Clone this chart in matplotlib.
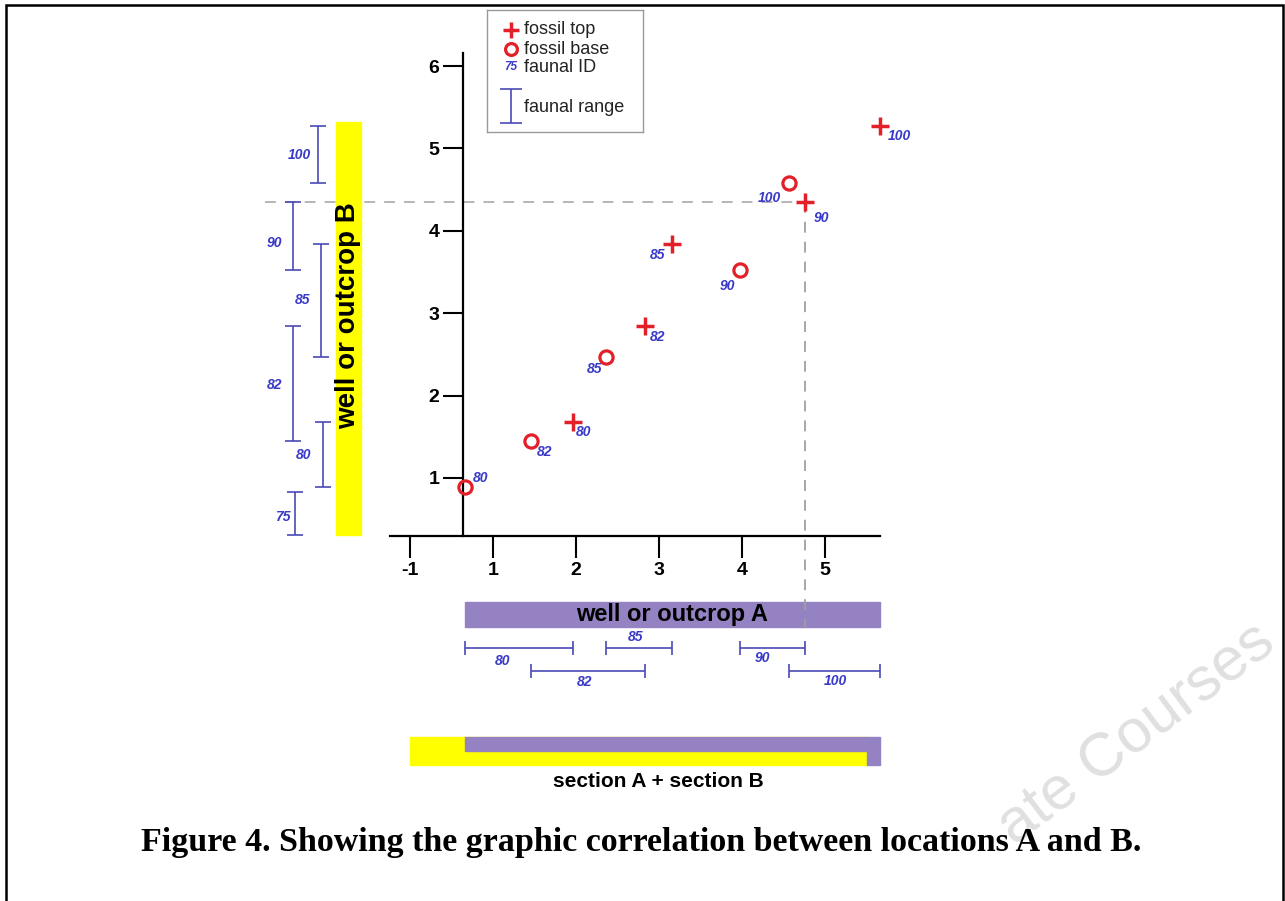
import matplotlib
matplotlib.use("Agg")
import matplotlib.pyplot as plt
from matplotlib.patches import Rectangle

plt.rcParams["font.family"] = ["Liberation Sans", "DejaVu Sans"]

# faunal IDs found in both sections
species = ["80", "82", "85", "90", "100"]
# fossil base / fossil top: position in section A (x) and section B (y)
base_a = [0.66, 1.46, 2.36, 3.98, 4.57]
base_b = [0.89, 1.45, 2.47, 3.52, 4.58]
top_a = [1.96, 2.83, 3.16, 4.76, 5.67]
top_b = [1.68, 2.85, 3.84, 4.35, 5.27]
# species 75 only occurs in section B
extra_species = "75"
extra_range_b = [0.31, 0.83]
# section B projected onto the A scale (composite)
composite_b = [0.0, 5.51]

x_ticks = [0, 1, 2, 3, 4, 5]
x_tick_labels = ["-1", "1", "2", "3", "4", "5"]
y_ticks = [1, 2, 3, 4, 5, 6]

RED = "#e3202a"
BLUE = "#3a3ac8"
RANGE = "#4a4ab8"
YELLOW = "#ffff00"
PURPLE = "#9482c2"

fig = plt.figure(figsize=(12.85, 9.01), dpi=100)
ax = fig.add_axes([390 / 1285, 1 - 536 / 901, 490 / 1285, 483 / 901])
ax.set_xlim(-0.2425, 5.668)
ax.set_ylim(0.296, 6.158)
ax.patch.set_alpha(0)

for s in ["top", "right"]:
    ax.spines[s].set_visible(False)
ax.spines["left"].set_position(("data", 0.644))
ax.spines["left"].set_linewidth(1.6)
ax.spines["bottom"].set_linewidth(1.6)
ax.set_xticks(x_ticks)
ax.set_xticklabels(x_tick_labels, fontweight="bold")
ax.set_yticks(y_ticks)
ax.set_yticklabels([str(v) for v in y_ticks], fontweight="bold")
ax.tick_params(axis="x", direction="out", length=15.5, width=1.5, pad=3, labelsize=14)
ax.tick_params(axis="y", direction="out", length=14.4, width=1.5, pad=3, labelsize=14)

# dashed guide through the top of species 90
ax.plot([-1.75, top_a[3]], [top_b[3], top_b[3]], color="#b0b0b0", lw=1.3,
        dashes=(6, 5), clip_on=False, zorder=1)
ax.plot([top_a[3], top_a[3]], [top_b[3], -0.81], color="#a0a0a0", lw=1.3,
        dashes=(6, 5), clip_on=False, zorder=3)

# markers
ax.plot(top_a, top_b, "+", color=RED, ms=12.5, mew=2.5, clip_on=False, zorder=4)
ax.plot(base_a, base_b, "o", mfc="none", mec=RED, ms=9.5, mew=2.3,
        clip_on=False, zorder=4)

# faunal ID labels next to the markers (offsets in pixels, y down)
base_off = [(16, -9), (13, 11), (-11, 12), (-13, 16), (-20, 15)]
top_off = [(11, 10), (13, 11), (-15, 11), (17, 16), (19, 10)]
lab_kw = dict(color=BLUE, fontsize=10, fontstyle="italic", fontweight="bold",
              ha="center", va="center", textcoords="offset points",
              annotation_clip=False)
for i, sp in enumerate(species):
    dx, dy = base_off[i]
    ax.annotate(sp, (base_a[i], base_b[i]), xytext=(dx * 0.72, -dy * 0.72), **lab_kw)
    dx, dy = top_off[i]
    ax.annotate(sp, (top_a[i], top_b[i]), xytext=(dx * 0.72, -dy * 0.72), **lab_kw)

# section B column
b_min, b_max = extra_range_b[0], top_b[-1]
ax.add_patch(Rectangle((-0.894, b_min), 0.30, b_max - b_min + 0.05, color=YELLOW,
                       clip_on=False, zorder=2))
ax.text(-0.745, 2.97, "well or outcrop B", rotation=90, ha="center", va="center",
        fontsize=20, fontweight="bold", zorder=3)

b_bar_x = [-1.05, -1.41, -1.07, -1.41, -1.11]
b_lab_dy = [0, 2, 0, 7, 0]
err_kw = dict(fmt="none", ecolor=RANGE, elinewidth=1.2, capthick=1.2,
              clip_on=False, zorder=3)
for i, sp in enumerate(species):
    lo, hi = base_b[i], top_b[i]
    mid = (lo + hi) / 2
    ax.errorbar([b_bar_x[i]], [mid], yerr=[[mid - lo], [hi - mid]], capsize=6, **err_kw)
    ax.annotate(sp, (b_bar_x[i], mid), xytext=(-19 * 0.72, -b_lab_dy[i] * 0.72), **lab_kw)
mid = sum(extra_range_b) / 2
ax.errorbar([-1.39], [mid], yerr=[[mid - extra_range_b[0]], [extra_range_b[1] - mid]],
            capsize=6, **err_kw)
ax.annotate(extra_species, (-1.39, mid), xytext=(-12 * 0.72, -4 * 0.72), **lab_kw)

# section A row
a_min, a_max = base_a[0], top_a[-1]
ax.add_patch(Rectangle((a_min, -0.808), a_max - a_min, 0.303, color=PURPLE,
                       clip_on=False, zorder=2))
ax.text((a_min + a_max) / 2, -0.655, "well or outcrop A", ha="center", va="center",
        fontsize=17, fontweight="bold", zorder=3)

a_rows = [-1.06, -1.34, -1.06, -1.06, -1.34]
a_lab_off = [(-16, 13), (-3, 11), (-3, -11), (-10, 10), (1, 10)]
for i, sp in enumerate(species):
    lo, hi = base_a[i], top_a[i]
    mid = (lo + hi) / 2
    ax.errorbar([mid], [a_rows[i]], xerr=[[mid - lo], [hi - mid]], capsize=4.8, **err_kw)
    dx, dy = a_lab_off[i]
    ax.annotate(sp, (mid, a_rows[i]), xytext=(dx * 0.72, -dy * 0.72), **lab_kw)

# composite section
ax.add_patch(Rectangle((composite_b[0], -2.483), composite_b[1] - composite_b[0], 0.34,
                       color=YELLOW, clip_on=False, zorder=2))
ax.add_patch(Rectangle((a_min, -2.313), a_max - a_min, 0.17, color=PURPLE,
                       clip_on=False, zorder=2))
ax.add_patch(Rectangle((composite_b[1], -2.483), a_max - composite_b[1], 0.17,
                       color=PURPLE, clip_on=False, zorder=2))
ax.text((a_min + a_max) / 2 - 0.17, -2.68, "section A + section B", ha="center",
        va="center", fontsize=15, fontweight="bold")

# legend box
lx, ly, lw_, lh = 487, 10, 156, 122
lg = fig.add_axes([lx / 1285, 1 - (ly + lh) / 901, lw_ / 1285, lh / 901])
lg.set_xlim(0, lw_)
lg.set_ylim(lh, 0)
lg.set_xticks([])
lg.set_yticks([])
for s in lg.spines.values():
    s.set_color("#9a9a9a")
    s.set_linewidth(1.0)
lg.plot([24], [20], "+", color=RED, ms=11, mew=2.5)
lg.plot([24], [39], "o", mfc="none", mec=RED, ms=8.5, mew=2.3)
lg.text(24, 57, extra_species, color=BLUE, fontsize=8.5, fontstyle="italic",
        fontweight="bold", ha="center", va="center")
lg.errorbar([24], [96], yerr=[[17], [17]], fmt="none", ecolor=RANGE, elinewidth=1.2,
            capthick=1.2, capsize=8)
for yy, txt in [(20, "fossil top"), (39, "fossil base"), (57, "faunal ID"),
                (97, "faunal range")]:
    lg.text(37, yy, txt, fontsize=13, ha="left", va="center", color="#222222")

# watermark
fig.text(1278 / 1285, 1 - 648 / 901, "ate Courses", rotation=37, ha="right",
         va="baseline", rotation_mode="anchor", fontsize=44, color="#e0e0e0",
         zorder=0)

# caption
fig.text(641 / 1285, 1 - 843 / 901,
         "Figure 4. Showing the graphic correlation between locations A and B.",
         ha="center", va="center", fontsize=24.5, fontweight="bold",
         family=["Liberation Serif", "DejaVu Serif"])

# page frame
fig.add_artist(Rectangle((6 / 1285, -0.05), 1277 / 1285, 1.05 - 5 / 901, fill=False,
                         edgecolor="black", lw=1.8, transform=fig.transFigure))

fig.savefig("out.png", dpi=100)
